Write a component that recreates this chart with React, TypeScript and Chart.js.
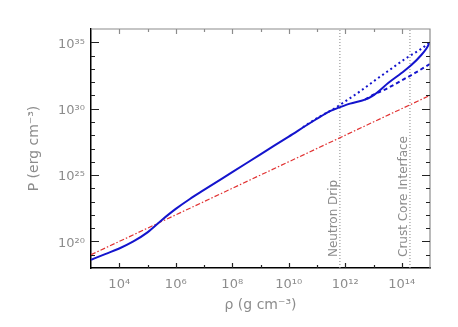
import React, { useEffect, useRef } from "react";
import { Chart, registerables } from "chart.js";

Chart.register(...registerables);

// log10 density / log10 pressure
const solidLogRho = [3.0, 3.5, 4.0, 4.5, 5.0, 5.5, 6.0, 6.5, 7.0, 8.0, 9.0, 10.0, 11.0, 11.5, 11.8, 12.17, 12.7, 12.94, 13.11, 13.52, 13.99, 14.35, 14.7, 14.88, 15.0];
const solidLogP = [18.62, 19.05, 19.47, 20.0, 20.68, 21.6, 22.45, 23.2, 23.88, 25.22, 26.56, 27.9, 29.24, 29.85, 30.1, 30.38, 30.68, 30.93, 31.18, 31.93, 32.68, 33.3, 34.06, 34.55, 35.0];

const dottedLogRho = [10.5, 11.0, 11.64, 12.0, 12.52, 13.05, 13.58, 14.12, 14.65, 15.0];
const dottedLogP = [28.6, 29.28, 30.05, 30.55, 31.3, 32.13, 32.93, 33.75, 34.45, 35.0];

const dashedLogRho = [12.7, 13.0, 13.4, 13.94, 14.47, 15.0];
const dashedLogP = [30.68, 31.05, 31.43, 32.06, 32.69, 33.37];

const redLogRho = [3.0, 15.0];
const redLogP = [19.0, 31.0];

const neutronDripLogRho = 11.81;
const crustCoreLogRho = 14.29;
const verticalLineLogP = [18, 36];

const xMin = 1e3, xMax = 1e15, yMin = 1e18, yMax = 1e36;
const xLabelExps = [4, 6, 8, 10, 12, 14];
const yLabelExps = [20, 25, 30, 35];
const xMinorExps = [4, 5, 6, 7, 8, 9, 10, 11, 12, 13, 14];
const yMinorExps = [19, 20, 21, 22, 23, 24, 25, 26, 27, 28, 29, 30, 31, 32, 33, 34, 35];

const annotations = [
  { logRho: neutronDripLogRho, text: "Neutron Drip" },
  { logRho: crustCoreLogRho, text: "Crust Core Interface" },
];

const SUP: Record<string, string> = { "0": "⁰", "1": "¹", "2": "²", "3": "³", "4": "⁴", "5": "⁵", "6": "⁶", "7": "⁷", "8": "⁸", "9": "⁹", "-": "⁻" };
const pow10Label = (e: number) => "10" + String(e).split("").map((c) => SUP[c] || c).join("");

const pts = (xs: number[], ys: number[]) => xs.map((x, i) => ({ x: Math.pow(10, x), y: Math.pow(10, ys[i]) }));

const GREY = "#8c8c8c";
const FONT = "'DejaVu Sans', sans-serif";

const framePlugin = {
  id: "frameTicks",
  afterDatasetsDraw(chart: any) {
    const { ctx, chartArea, scales } = chart;
    const { left, right, top, bottom } = chartArea;
    const x = scales.x, y = scales.y;
    ctx.save();
    ctx.lineWidth = 1.2;
    ctx.strokeStyle = GREY;
    ctx.beginPath();
    ctx.moveTo(left, top);
    ctx.lineTo(right, top);
    ctx.lineTo(right, bottom);
    ctx.stroke();
    for (const e of xMinorExps) {
      const px = Math.round(x.getPixelForValue(Math.pow(10, e))) + 0.5;
      const len = e % 2 === 0 ? 5 : 3;
      ctx.strokeStyle = "#222";
      ctx.beginPath();
      ctx.moveTo(px, bottom);
      ctx.lineTo(px, bottom - len);
      ctx.stroke();
      ctx.strokeStyle = GREY;
      ctx.beginPath();
      ctx.moveTo(px, top);
      ctx.lineTo(px, top + len);
      ctx.stroke();
    }
    for (const e of yMinorExps) {
      const py = Math.round(y.getPixelForValue(Math.pow(10, e))) + 0.5;
      const len = e % 5 === 0 ? 8 : 4;
      ctx.strokeStyle = "#222";
      ctx.beginPath();
      ctx.moveTo(left, py);
      ctx.lineTo(left + len, py);
      ctx.moveTo(right, py);
      ctx.lineTo(right - len, py);
      ctx.stroke();
    }
    ctx.fillStyle = "#8c8c8c";
    ctx.font = "12px " + FONT;
    ctx.textAlign = "left";
    ctx.textBaseline = "alphabetic";
    for (const a of annotations) {
      const px = x.getPixelForValue(Math.pow(10, a.logRho));
      ctx.save();
      ctx.translate(px - 3, bottom - 11);
      ctx.rotate(-Math.PI / 2);
      ctx.fillText(a.text, 0, 0);
      ctx.restore();
    }
    ctx.restore();
  },
};

export default function App() {
  const ref = useRef<HTMLCanvasElement | null>(null);
  useEffect(() => {
    if (!ref.current) return;
    const blue = "rgb(20,20,205)";
    const chart = new Chart(ref.current, {
      type: "line",
      data: {
        datasets: [
          { data: pts(solidLogRho, solidLogP), borderColor: blue, borderWidth: 2, pointRadius: 0, cubicInterpolationMode: "monotone" },
          { data: pts(dottedLogRho, dottedLogP), borderColor: blue, borderWidth: 2, borderDash: [2, 3], pointRadius: 0, cubicInterpolationMode: "monotone" },
          { data: pts(dashedLogRho, dashedLogP), borderColor: blue, borderWidth: 2, borderDash: [4, 3], pointRadius: 0, cubicInterpolationMode: "monotone" },
          { data: pts(redLogRho, redLogP), borderColor: "rgb(225,50,50)", borderWidth: 1.2, borderDash: [5, 2, 1.5, 2], pointRadius: 0 },
          { data: pts([neutronDripLogRho, neutronDripLogRho], verticalLineLogP), borderColor: "#999", borderWidth: 1.2, borderDash: [1, 2], pointRadius: 0 },
          { data: pts([crustCoreLogRho, crustCoreLogRho], verticalLineLogP), borderColor: "#999", borderWidth: 1.2, borderDash: [1, 2], pointRadius: 0 },
        ],
      },
      options: {
        animation: false,
        responsive: false,
        maintainAspectRatio: false,
        events: [],
        layout: { padding: { left: 0, right: 28, top: 29, bottom: 0 } },
        plugins: { legend: { display: false }, tooltip: { enabled: false } },
        scales: {
          x: {
            type: "logarithmic",
            min: xMin,
            max: xMax,
            position: "bottom",
            afterBuildTicks: (s: any) => {
              s.ticks = xLabelExps.map((e) => ({ value: Math.pow(10, e) }));
            },
            afterFit: (s: any) => {
              s.height = 59;
            },
            grid: { display: false, drawTicks: false },
            border: { display: true, color: "#000", width: 1.5 },
            ticks: {
              autoSkip: false,
              maxRotation: 0,
              padding: 9,
              color: GREY,
              font: { family: FONT, size: 13 },
              callback: (v: any) => pow10Label(Math.round(Math.log10(Number(v)))),
            },
            title: {
              display: true,
              text: "ρ (g cm⁻³)",
              color: GREY,
              font: { family: FONT, size: 14 },
              padding: { top: 0, bottom: 13 },
            },
          },
          y: {
            type: "logarithmic",
            min: yMin,
            max: yMax,
            position: "left",
            afterBuildTicks: (s: any) => {
              s.ticks = yLabelExps.map((e) => ({ value: Math.pow(10, e) }));
            },
            afterFit: (s: any) => {
              s.width = 91;
            },
            grid: { display: false, drawTicks: false },
            border: { display: true, color: "#000", width: 1.5 },
            ticks: {
              autoSkip: false,
              padding: 6,
              labelOffset: 2,
              color: GREY,
              font: { family: FONT, size: 13 },
              callback: (v: any) => pow10Label(Math.round(Math.log10(Number(v)))),
            },
            title: {
              display: true,
              text: "P (erg cm⁻³)",
              color: GREY,
              font: { family: FONT, size: 14 },
              padding: { top: 26, bottom: 0 },
            },
          },
        },
      },
      plugins: [framePlugin],
    } as any);
    return () => chart.destroy();
  }, []);
  return (
    <div style={{ position: "fixed", left: 0, top: 0, width: 458, height: 327, background: "#fff" }}>
      <canvas ref={ref} width={458} height={327} style={{ display: "block" }} />
    </div>
  );
}
